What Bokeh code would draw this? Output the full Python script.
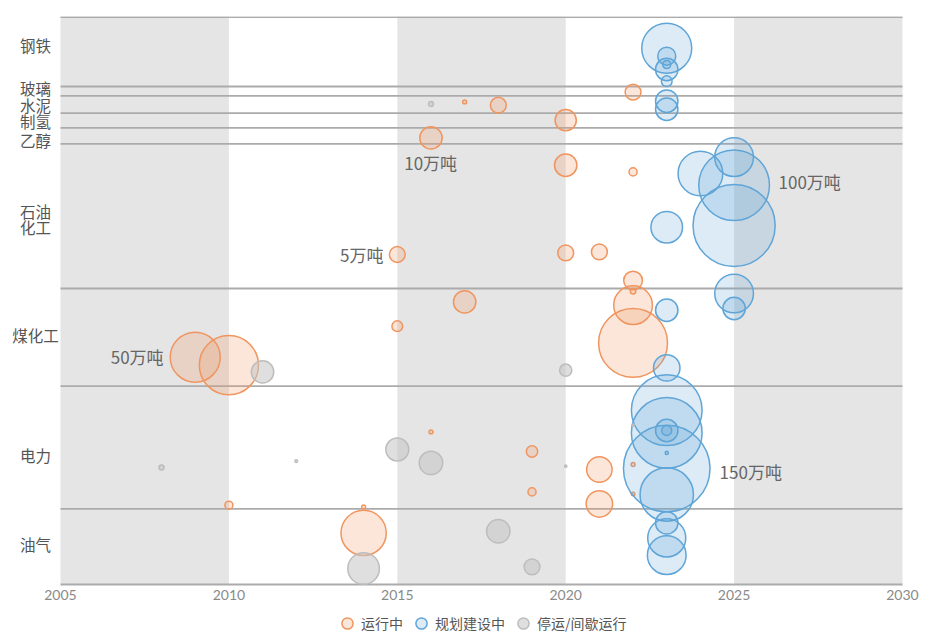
import math
from bokeh.plotting import figure
from bokeh.models import Range1d, FixedTicker, Label, Legend, LegendItem, ColumnDataSource
from bokeh.embed import file_html
from bokeh.resources import INLINE

# ---------------- data ----------------
# sector rows, top -> bottom; row position 0 = top of chart, 567.3 = bottom
categories = ["钢铁", "玻璃", "水泥", "制氢", "乙醇", "石油\n化工", "煤化工", "电力", "油气"]
band_edges = [0, 69.3, 78.7, 96, 110.7, 126.7, 271.3, 369, 491.7, 567.3]
category_label_pos = [28, 70.7, 87.7, 104, 122.7, 201.7, 317.3, 438, 526.7]

x_ticks = [2005, 2010, 2015, 2020, 2025, 2030]
shade_left = [2005, 2015, 2025]
shade_right = [2010, 2020, 2030]

# 运行中 (running): year, row position, capacity (万吨)
run_year = [2022, 2017, 2018, 2020, 2016, 2020, 2022, 2021, 2020, 2015, 2022,
            2022, 2022, 2022, 2017, 2015, 2009, 2010,
            2016, 2019, 2019, 2021, 2021, 2010, 2022, 2022, 2014, 2014]
run_pos = [75, 84.7, 88, 103, 120.7, 148, 154.7, 234.7, 235.7, 237.3, 263.3,
           274, 288, 325.7, 284.7, 309, 340, 348,
           414.7, 434.3, 474.7, 452.3, 486.7, 488, 447.3, 476.7, 489.7, 515.7]
run_cap = [5, 0.3, 5, 9, 10, 10, 1.3, 5, 5, 5, 7,
           0.6, 30, 95, 10, 2.3, 50, 70,
           0.3, 2.6, 1.3, 13, 14, 1.3, 0.3, 0.25, 0.3, 41]

# 规划建设中 (planned / under construction)
plan_year = [2023, 2023, 2023, 2023, 2023, 2023, 2023,
             2024, 2025, 2025, 2025, 2023,
             2023, 2025, 2025, 2023,
             2023, 2023, 2023, 2023, 2023, 2023, 2023,
             2023, 2023, 2023]
plan_pos = [31, 39, 47.3, 52.3, 64, 84, 92,
            156.3, 140, 168, 208.3, 210,
            293, 276.3, 291.3, 350.7,
            393, 415.7, 413.3, 413.3, 451.3, 477.3, 435.7,
            505.7, 520.7, 538]
plan_cap = [50, 6.5, 1.3, 10, 2.3, 10, 10,
            40, 30, 100, 135, 20,
            10, 30, 10, 14,
            100, 100, 10, 2, 150, 57, 0.2,
            10, 29, 30]

# 停运/间歇运行 (stopped / intermittent)
stop_year = [2016, 2011, 2020, 2008, 2012, 2015, 2016, 2020, 2022, 2014, 2018, 2019]
stop_pos = [86.7, 354.7, 353, 450.3, 444, 432.3, 445.7, 449, 408, 551.3, 514, 549.7]
stop_cap = [0.5, 10, 3, 0.5, 0.15, 10.5, 11, 0.1, 0.1, 20, 11, 5]

# reference-size annotations
size_labels = ["10万吨", "5万吨", "50万吨", "100万吨", "150万吨"]
size_label_x = [2015.99, 2014.59, 2008.06, 2026.32, 2024.57]
size_label_y = [145, 237, 339, 164, 454]
size_label_align = ["center", "right", "right", "left", "left"]

# ---------------- styling ----------------
PX_PER_SQRT = 7.07          # bubble diameter in px per sqrt(万吨)
CJK = "Noto Sans CJK SC"
ORANGE, BLUE, GREY = "#F0955F", "#5FA5D8", "#BDBDBD"
X0, X1 = 2005, 2030
LABEL_ZONE = 1.7815         # years of white space left of 2005 for the row labels
RIGHT_ZONE = 0.594          # white space right of 2030 so its tick label fits
DATA_BOTTOM = band_edges[-1]
Y_TOP = -0.7
Y_BOTTOM = Y_TOP + 616      # frame extends below the data area to hold axis labels + legend

p = figure(frame_width=922, frame_height=616,
           x_range=Range1d(X0 - LABEL_ZONE, X1 + RIGHT_ZONE),
           y_range=Range1d(Y_BOTTOM, Y_TOP),
           output_backend="svg", toolbar_location=None, y_axis_location=None,
           min_border_left=0, min_border_right=0,
           min_border_top=16, min_border_bottom=0)
p.outline_line_color = None
p.xgrid.visible = False
p.ygrid.visible = False

ax = p.xaxis[0]
ax.fixed_location = DATA_BOTTOM
ax.ticker = FixedTicker(ticks=x_ticks)
ax.major_tick_out = 0
ax.major_tick_in = 0
ax.minor_tick_out = 0
ax.minor_tick_in = 0
ax.axis_line_color = None
ax.major_label_standoff = 5
ax.major_label_text_font = "Lato"
ax.major_label_text_font_size = "14px"
ax.major_label_text_color = "#8A8A8A"

# shaded 5-year bands
p.quad(left=shade_left, right=shade_right, bottom=DATA_BOTTOM, top=Y_TOP,
       fill_color="#E5E5E5", line_color=None)

# sector separators (incl. top and bottom rules)
p.segment(x0=[X0] * len(band_edges), x1=[X1] * len(band_edges),
          y0=band_edges, y1=band_edges, line_color="#ABABAB", line_width=1.8)


def src(years, pos, cap):
    return ColumnDataSource(dict(x=years, y=pos,
                                 size=[PX_PER_SQRT * math.sqrt(c) for c in cap]))


r_run = p.scatter("x", "y", size="size", source=src(run_year, run_pos, run_cap),
                  fill_color=ORANGE, fill_alpha=0.24, line_color=ORANGE, line_width=1.5)
r_plan = p.scatter("x", "y", size="size", source=src(plan_year, plan_pos, plan_cap),
                   fill_color=BLUE, fill_alpha=0.22, line_color=BLUE, line_width=1.5)
r_stop = p.scatter("x", "y", size="size", source=src(stop_year, stop_pos, stop_cap),
                   fill_color="#C4C4C4", fill_alpha=0.55, line_color=GREY, line_width=1.5)

# category labels on the left
LINE_H = 16.7
for name, yc in zip(categories, category_label_pos):
    lines = name.split("\n")
    n = len(lines)
    for i, t in enumerate(lines):
        yy = yc + (i - (n - 1) / 2) * LINE_H
        p.add_layout(Label(x=2004.26, y=yy, text=t, text_align="center",
                           text_baseline="middle", text_font=CJK,
                           text_font_size="15.5px", text_color="#555555"))

# size reference labels
for t, xx, yy, al in zip(size_labels, size_label_x, size_label_y, size_label_align):
    p.add_layout(Label(x=xx, y=yy, text=t, text_align=al, text_baseline="middle",
                       text_font=CJK, text_font_size="17px", text_color="#666666"))

legend = Legend(items=[LegendItem(label="运行中", renderers=[r_run]),
                       LegendItem(label="规划建设中", renderers=[r_plan]),
                       LegendItem(label="停运/间歇运行", renderers=[r_stop])],
                orientation="horizontal", location=(333, -5),
                glyph_width=28, glyph_height=28, label_standoff=-4, spacing=4,
                padding=0, margin=0, border_line_color=None,
                background_fill_alpha=0, label_text_font=CJK,
                label_text_font_size="14px", label_text_color="#555555")
p.add_layout(legend, "center")

open("out.html", "w").write(file_html(p, INLINE))
